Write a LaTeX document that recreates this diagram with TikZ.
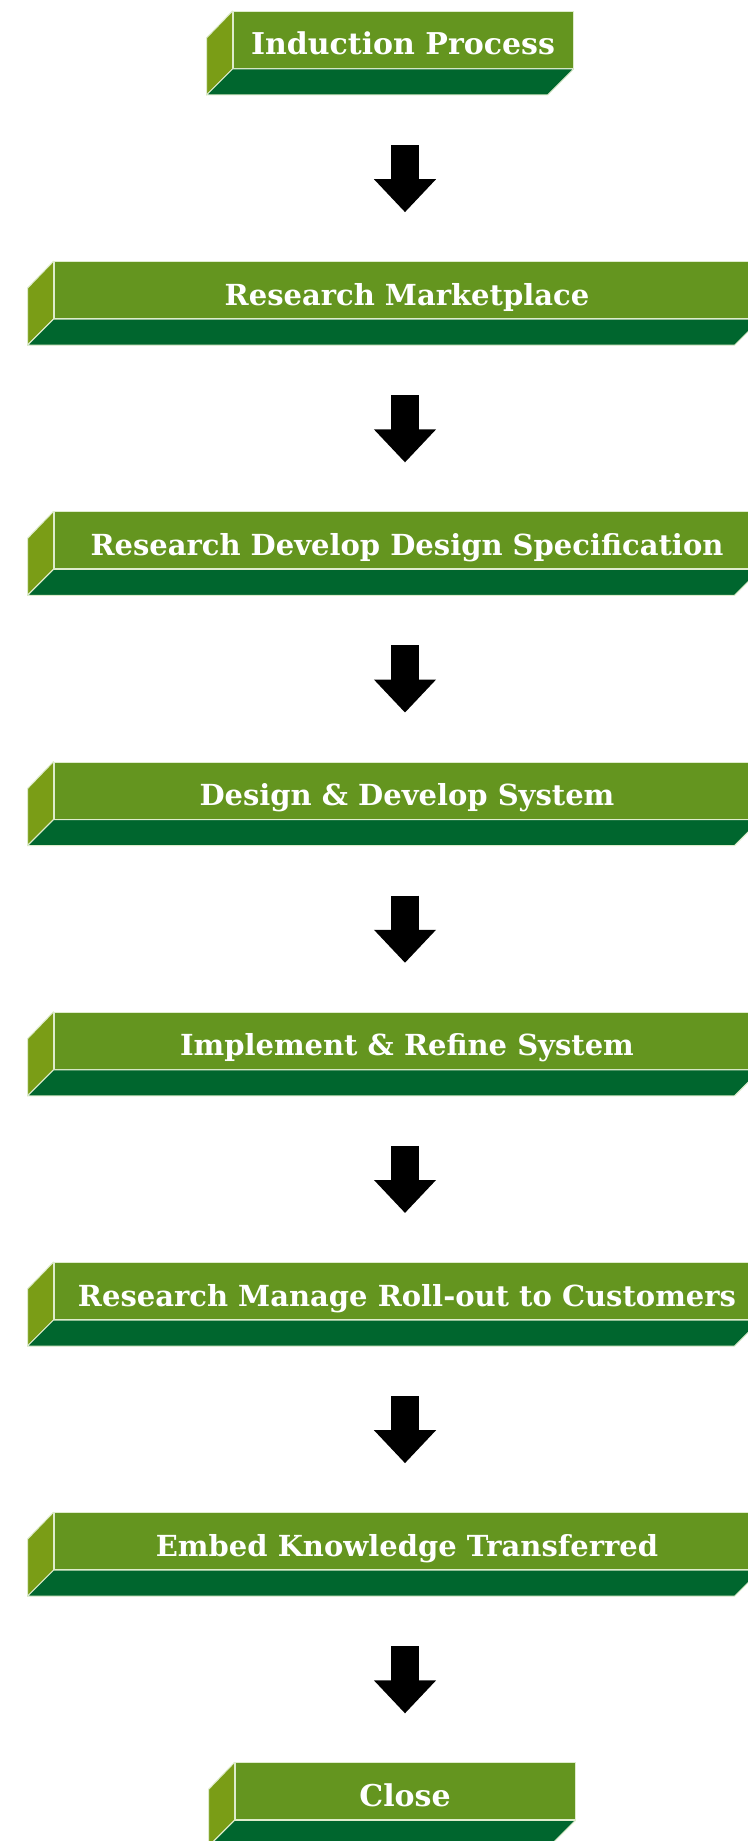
\documentclass[tikz,border=0pt]{standalone}
\usepackage{fontspec}
\usepackage{tikz}
\usetikzlibrary{arrows.meta}
\newfontfamily\slabfont{DejaVu Serif}

\definecolor{frontgreen}{RGB}{100,149,31}
\definecolor{sidegreen}{RGB}{122,157,22}
\definecolor{basegreen}{RGB}{0,102,46}
\definecolor{edgeline}{RGB}{222,236,204}

\begin{document}
\begin{tikzpicture}[x=1pt,y=-1pt,
    stage/.style={rectangle,fill=frontgreen,draw=edgeline,line width=1pt,
      minimum height=57pt,inner sep=0pt,text=white,text height=30pt,text depth=0pt,
      font=\slabfont\bfseries\fontsize{29}{34}\selectfont},
    bigstage/.style={stage,minimum width=706pt},
    smallstage/.style={stage,minimum width=340pt,font=\slabfont\bfseries\fontsize{30}{34}\selectfont},
    side/.style={fill=sidegreen,draw=edgeline,line width=1pt,line join=round},
    base/.style={fill=basegreen,draw=edgeline,line width=1pt,line join=round},
    flow/.style={line width=28pt,-{Triangle[width=60pt,length=33pt]},shorten <=76pt,shorten >=49pt}]
  \useasboundingbox (0,0) rectangle (747,1841);
  \fill[white] (0,0) rectangle (747,1841);
  % stages
  \node[smallstage] (induction) at (403,40) {Induction Process};
  \node[bigstage] (market) at (407,290.2) {Research Marketplace};
  \node[bigstage] (spec) at (407,540.4) {Research Develop Design Specification};
  \node[bigstage] (design) at (407,790.6) {Design \& Develop System};
  \node[bigstage] (implement) at (407,1040.8) {Implement \& Refine System};
  \node[bigstage] (rollout) at (407,1291) {Research Manage Roll-out to Customers};
  \node[bigstage] (embed) at (407,1541.2) {Embed Knowledge Transferred};
  \node[smallstage] (close) at (405,1791.4) {Close};
  % side and base faces
  \foreach \s in {induction,market,spec,design,implement,rollout,embed,close}{
    \draw[side] (\s.north west) -- (\s.south west) -- ++(-26,26) -- ++(0,-57) -- cycle;
    \draw[base] (\s.south west) -- (\s.south east) -- ++(-26,26)
      -- ([shift={(-26,26)}]\s.south west) -- cycle;
  }
  % arrows
  \draw[flow] (induction.south -| 405,0) -- (market.north -| 405,0);
  \draw[flow] (market.south -| 405,0) -- (spec.north -| 405,0);
  \draw[flow] (spec.south -| 405,0) -- (design.north -| 405,0);
  \draw[flow] (design.south -| 405,0) -- (implement.north -| 405,0);
  \draw[flow] (implement.south -| 405,0) -- (rollout.north -| 405,0);
  \draw[flow] (rollout.south -| 405,0) -- (embed.north -| 405,0);
  \draw[flow] (embed.south -| 405,0) -- (close.north -| 405,0);
\end{tikzpicture}
\end{document}
